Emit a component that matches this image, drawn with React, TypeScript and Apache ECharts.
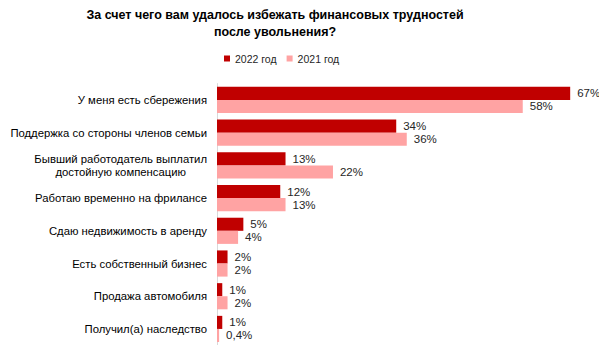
import React, { useEffect, useRef } from "react";
import * as echarts from "echarts";

const categories = [
  "У меня есть сбережения",
  "Поддержка со стороны членов семьи",
  "Бывший работодатель выплатил\nдостойную компенсацию",
  "Работаю временно на фрилансе",
  "Сдаю недвижимость в аренду",
  "Есть собственный бизнес",
  "Продажа автомобиля",
  "Получил(а) наследство",
];
const values2022 = [67, 34, 13, 12, 5, 2, 1, 1];
const values2021 = [58, 36, 22, 13, 4, 2, 2, 0.4];
const seriesNames = ["2022 год", "2021 год"];
const titleText = "За счет чего вам удалось избежать финансовых трудностей\nпосле увольнения?";

const FONT = "Arial, 'Liberation Sans', sans-serif";

function fmt(v: number): string {
  return String(v).replace(".", ",") + "%";
}

export default function App() {
  const ref = useRef<HTMLDivElement>(null);
  useEffect(() => {
    if (!ref.current) return;
    const chart = echarts.init(ref.current, null, { renderer: "svg" });
    const labelCfg = {
      show: true,
      position: "right" as const,
      distance: 7,
      fontFamily: FONT,
      fontSize: 11.5,
      color: "#262626",
      formatter: (p: any) => fmt(p.value),
    };
    chart.setOption({
      animation: false,
      backgroundColor: "#ffffff",
      title: {
        text: titleText,
        left: 270,
        textAlign: "center",
        top: 1,
        textStyle: {
          fontFamily: FONT,
          fontSize: 12.5,
          fontWeight: "bold",
          color: "#000000",
          lineHeight: 17,
        },
      },
      legend: {
        top: 48,
        left: 219,
        itemWidth: 6,
        itemHeight: 6,
        itemGap: 10,
        icon: "rect",
        textStyle: { fontFamily: FONT, fontSize: 10.5, color: "#262626" },
        data: seriesNames,
      },
      grid: { left: 217, right: 21, top: 83.6, bottom: 353 - 345.3, containLabel: false },
      xAxis: {
        type: "value",
        min: 0,
        max: 70,
        show: false,
      },
      yAxis: {
        type: "category",
        data: categories,
        inverse: true,
        axisLine: { show: true, lineStyle: { color: "#d9d9d9", width: 1 } },
        axisTick: { show: false },
        axisLabel: {
          margin: 10,
          fontFamily: FONT,
          fontSize: 11.3,
          color: "#000000",
          lineHeight: 12.5,
          formatter: (v: string) =>
            v
              .split("\n")
              .map((s) => "{c|" + s + "}")
              .join("\n"),
          rich: {
            c: { align: "center", fontFamily: FONT, fontSize: 11.3, color: "#000000", lineHeight: 12.5 },
          },
        },
      },
      series: [
        {
          name: seriesNames[0],
          type: "bar",
          data: values2022,
          barGap: "0%",
          barCategoryGap: "20%",
          itemStyle: { color: "#C00000" },
          label: labelCfg,
        },
        {
          name: seriesNames[1],
          type: "bar",
          data: values2021,
          itemStyle: { color: "#FFA3A3" },
          label: labelCfg,
        },
      ],
    });
    return () => chart.dispose();
  }, []);
  return <div ref={ref} style={{ width: 607, height: 353, margin: -8 }} />;
}
